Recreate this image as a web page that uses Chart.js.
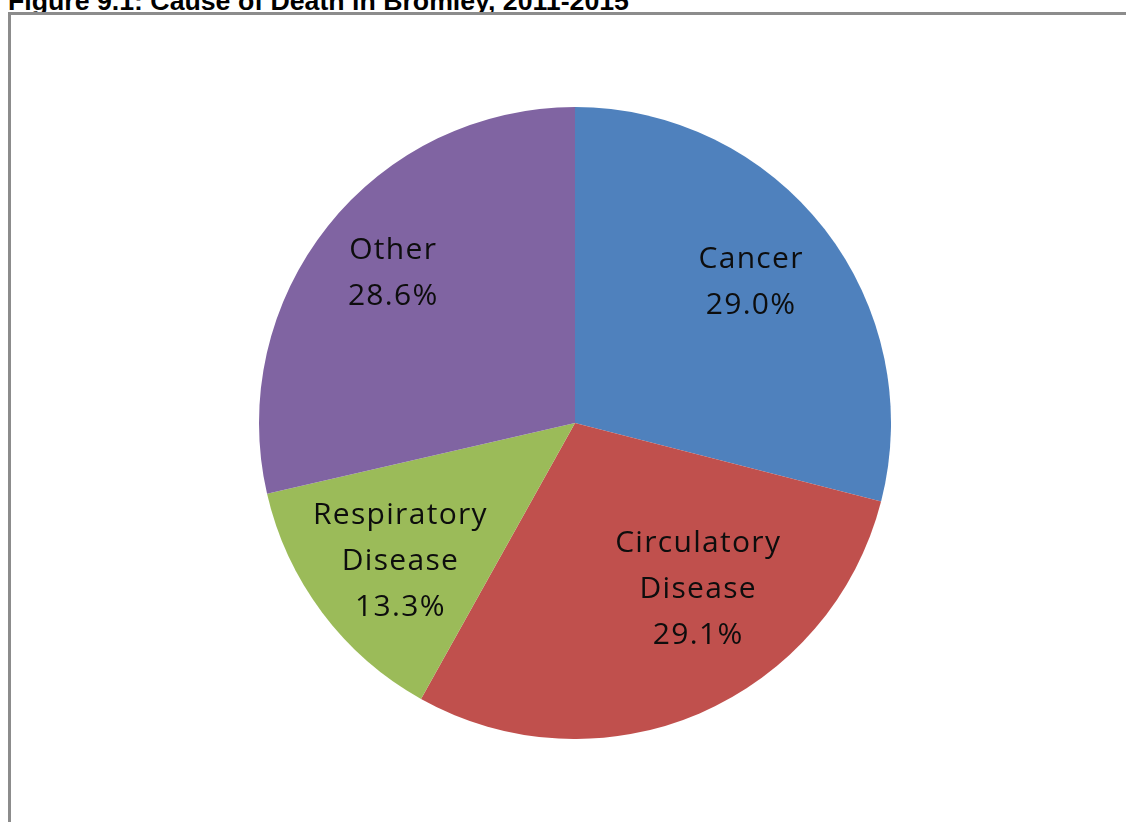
<!DOCTYPE html>
<html>
<head>
<meta charset="utf-8">
<script src="https://cdn.jsdelivr.net/npm/chart.js@4/dist/chart.umd.min.js"></script>
<style>
  html, body { margin: 0; padding: 0; background: #fff; overflow: hidden; }
  body { width: 1126px; height: 822px; position: relative; }
  #title {
    position: absolute; left: 8px; top: -14px; line-height: 1;
    font: bold 26.7px "Liberation Sans", Arial, sans-serif; color: #000;
    white-space: nowrap;
  }
  #frame {
    position: absolute; left: 8px; top: 12px; width: 1200px; height: 900px;
    border: 3px solid #8c8c8c; box-sizing: border-box;
  }
  #wrap { position: absolute; left: 259px; top: 107px; width: 632px; height: 632px; }
</style>
</head>
<body>
<div id="title">Figure 9.1: Cause of Death in Bromley, 2011-2015</div>
<div id="frame"></div>
<div id="wrap"><canvas id="myChartPie"></canvas></div>
<script>
// data
const causes = ['Cancer', 'Circulatory Disease', 'Respiratory Disease', 'Other'];
const labelLines = [['Cancer'], ['Circulatory', 'Disease'], ['Respiratory', 'Disease'], ['Other']];
const shares = [29.0, 29.1, 13.3, 28.6];
const colours = ['#4F81BD', '#C0504D', '#9BBB59', '#8064A2'];

// draws the category + percent labels inside each slice
const sliceLabels = {
  id: 'sliceLabels',
  afterDatasetsDraw(chart, args, opts) {
    const ctx = chart.ctx;
    const meta = chart.getDatasetMeta(0);
    ctx.save();
    ctx.font = opts.font;
    ctx.letterSpacing = opts.spacing;
    ctx.fillStyle = '#0d0d0d';
    ctx.textAlign = 'center';
    ctx.textBaseline = 'middle';
    meta.data.forEach((arc, i) => {
      const p = arc.getProps(['x', 'y', 'startAngle', 'endAngle', 'outerRadius'], true);
      const mid = (p.startAngle + p.endAngle) / 2 + opts.angleShift[i] * Math.PI / 180;
      const r = p.outerRadius * opts.radius[i];
      const cx = p.x + Math.cos(mid) * r;
      const cy = p.y + Math.sin(mid) * r + opts.dy;
      const lines = labelLines[i].concat([shares[i].toFixed(1) + '%']);
      const top = cy - (lines.length - 1) * opts.lineHeight / 2;
      lines.forEach((t, k) => ctx.fillText(t, cx, top + k * opts.lineHeight));
    });
    ctx.restore();
  }
};

var ctx = document.getElementById('myChartPie');

new Chart(ctx, {
  type: 'pie',
  data: {
    labels: causes,
    datasets: [{
      data: shares,
      backgroundColor: colours,
      borderWidth: 0
    }]
  },
  options: {
    responsive: true,
    maintainAspectRatio: false,
    animation: false,
    layout: { padding: 0 },
    plugins: {
      legend: { display: false },
      tooltip: { enabled: false },
      sliceLabels: {
        font: '30px "Open Sans", Lato, sans-serif',
        spacing: '1.3px',
        lineHeight: 46,
        dy: 2,
        angleShift: [-1.2, -13.7, -1.1, 1.3],
        radius: [0.717, 0.649, 0.701, 0.749]
      }
    }
  },
  plugins: [sliceLabels]
});
</script>
</body>
</html>
